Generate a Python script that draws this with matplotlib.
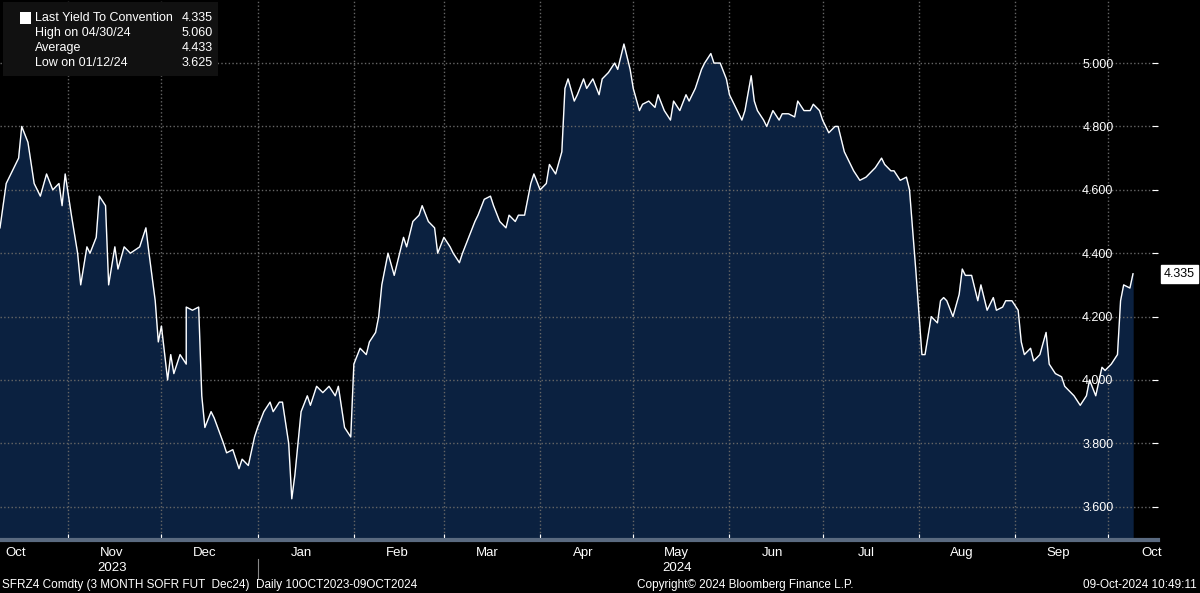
import matplotlib.pyplot as plt
import matplotlib.dates as mdates
import datetime as dt

plt.rcParams['font.family'] = ['Liberation Sans', 'DejaVu Sans']

start = dt.date(2023, 10, 10)
offsets = [0, 3, 7, 8, 10, 12, 14, 16, 18, 20, 21, 22, 24, 26, 27, 29, 30, 32, 33, 35, 36, 38, 39, 41, 43,
           46, 48, 49, 51, 52, 53, 55, 56, 57, 59, 61, 62, 64, 66, 67, 68, 70, 71, 74, 75, 77, 79, 80, 82, 84,
           85, 87, 89, 90, 92, 93, 95, 96, 97, 99, 101, 102, 104, 106, 108, 110, 111, 113, 115, 116, 118, 120,
           121, 123, 125, 126, 128, 130, 131, 133, 134, 136, 138, 139, 141, 143, 144, 146, 148, 149, 151, 152,
           154, 156, 157, 159, 161, 162, 164, 166, 167, 169, 170, 172, 174, 175, 177, 179, 180, 182, 184, 185,
           187, 189, 190, 192, 193, 195, 197, 198, 200, 202, 203, 205, 207, 208, 210, 211, 213, 215, 216, 218,
           220, 221, 223, 225, 226, 228, 230, 231, 233, 234, 236, 238, 239, 241, 243, 244, 246, 248, 249, 251,
           252, 254, 256, 257, 259, 261, 262, 264, 266, 267, 269, 270, 272, 274, 275, 277, 279, 280, 282, 284,
           285, 287, 289, 290, 292, 293, 295, 297, 298, 300, 302, 303, 305, 307, 308, 310, 311, 313, 315, 316,
           317, 319, 321, 322, 324, 326, 327, 329, 330, 332, 334, 335, 336, 338, 339, 341, 343, 344, 346, 348,
           349, 351, 352, 354, 356, 357, 359, 361, 362, 364, 366, 367, 368, 370, 371]
values = [4.48, 4.62, 4.70, 4.80, 4.75, 4.62, 4.58, 4.65, 4.60, 4.62, 4.55, 4.65, 4.52, 4.40, 4.30, 4.42,
          4.40, 4.45, 4.58, 4.55, 4.30, 4.42, 4.35, 4.42, 4.40, 4.42, 4.48, 4.40, 4.25, 4.12, 4.17, 4.00,
          4.08, 4.02, 4.08, 4.05, 4.23, 4.22, 4.23, 3.95, 3.85, 3.90, 3.88, 3.80, 3.77, 3.78, 3.72, 3.75,
          3.73, 3.82, 3.85, 3.90, 3.93, 3.90, 3.93, 3.93, 3.80, 3.625, 3.70, 3.90, 3.95, 3.92, 3.98, 3.96,
          3.98, 3.95, 3.98, 3.85, 3.82, 4.05, 4.10, 4.08, 4.12, 4.15, 4.20, 4.30, 4.40, 4.33, 4.37, 4.45,
          4.42, 4.50, 4.52, 4.55, 4.50, 4.48, 4.40, 4.45, 4.42, 4.40, 4.37, 4.40, 4.45, 4.50, 4.52, 4.57,
          4.58, 4.55, 4.50, 4.48, 4.52, 4.50, 4.52, 4.52, 4.62, 4.65, 4.60, 4.62, 4.68, 4.65, 4.72, 4.92,
          4.95, 4.88, 4.90, 4.95, 4.92, 4.95, 4.90, 4.95, 4.97, 5.00, 4.98, 5.06, 4.98, 4.92, 4.85, 4.87,
          4.88, 4.86, 4.90, 4.85, 4.82, 4.88, 4.85, 4.90, 4.88, 4.92, 4.98, 5.00, 5.03, 5.00, 5.00, 4.95,
          4.90, 4.86, 4.82, 4.85, 4.96, 4.88, 4.85, 4.82, 4.80, 4.85, 4.82, 4.84, 4.84, 4.83, 4.88, 4.85,
          4.85, 4.87, 4.85, 4.82, 4.78, 4.80, 4.80, 4.72, 4.68, 4.66, 4.63, 4.64, 4.65, 4.67, 4.70, 4.68,
          4.66, 4.66, 4.63, 4.64, 4.60, 4.35, 4.08, 4.08, 4.20, 4.18, 4.25, 4.26, 4.25, 4.20, 4.27, 4.35,
          4.33, 4.33, 4.25, 4.30, 4.22, 4.26, 4.22, 4.23, 4.25, 4.25, 4.22, 4.12, 4.08, 4.10, 4.06, 4.08,
          4.15, 4.05, 4.02, 4.01, 3.98, 3.96, 3.95, 3.92, 3.95, 4.00, 3.95, 4.04, 4.03, 4.05, 4.08, 4.25,
          4.30, 4.29, 4.335]
yticks = [3.6, 3.8, 4.0, 4.2, 4.4, 4.6, 4.8, 5.0]
months = ['Oct', 'Nov', 'Dec', 'Jan', 'Feb', 'Mar', 'Apr', 'May', 'Jun', 'Jul', 'Aug', 'Sep', 'Oct']
legend_rows = [('Last Yield To Convention', '4.335'), ('High on 04/30/24', '5.060'),
               ('Average', '4.433'), ('Low on 01/12/24', '3.625')]

# pixel trace was slightly wider than a year, squeeze onto the real date range
dates = [start + dt.timedelta(days=o * 365 / 371) for o in offsets]
dnum = mdates.date2num(dates)

fig = plt.figure(figsize=(12, 5.93), dpi=100, facecolor='black')
ax = fig.add_axes([0, 53 / 593, 1158 / 1200, 540 / 593], facecolor='black')
ax.fill_between(dnum, values, 3.0, color='#0b2140', zorder=1)
ax.plot(dnum, values, color='white', lw=1.0, zorder=2)
ax.set_ylim(3.495, 5.199)
x0 = mdates.date2num(dt.datetime(2023, 10, 10))
ax.set_xlim(x0, x0 + 365 * 1158 / 1133)

ax.yaxis.tick_right()
ax.set_yticks(yticks)
ax.set_yticklabels([f'{v:.3f}' for v in yticks], color='white', fontsize=9)
ax.tick_params(axis='y', direction='in', pad=-32, length=4, color='white')
for lbl in ax.get_yticklabels():
    lbl.set_horizontalalignment('right')
ax.grid(True, axis='y', color='#666666', ls=':', lw=1)

bounds = [dt.date(2023 + (10 + i) // 12, (10 + i) % 12 + 1, 1) for i in range(12)]
ax.set_xticks(mdates.date2num(bounds))
ax.set_xticklabels([])
ax.tick_params(axis='x', direction='in', length=4, color='white')
ax.grid(True, axis='x', color='#666666', ls=':', lw=1)
mids = [dt.date(2023 + (9 + i) // 12, (9 + i) % 12 + 1, 15) for i in range(13)]
xt = ax.get_xaxis_transform()
for m, name in zip(mids, months):
    ax.text(mdates.date2num(m), -0.013, name, transform=xt,
            ha='center', va='top', color='white', fontsize=9.5)
ax.text(mdates.date2num(dt.date(2023, 11, 15)), -0.04, '2023', transform=xt,
        ha='center', va='top', color='white', fontsize=9.5)
ax.text(mdates.date2num(dt.date(2024, 5, 15)), -0.04, '2024', transform=xt,
        ha='center', va='top', color='white', fontsize=9.5)
ax.plot([mdates.date2num(dt.date(2024, 1, 1))] * 2, [-0.035, -0.07], color='#888888', lw=0.8,
        transform=xt, clip_on=False)
for s in ['top', 'left', 'right']:
    ax.spines[s].set_visible(False)
ax.spines['bottom'].set_color('#5a6a80')
ax.spines['bottom'].set_linewidth(3)

ax.text(1.005, values[-1], f'{values[-1]:.3f}', transform=ax.get_yaxis_transform(),
        ha='left', va='center', color='black', fontsize=9,
        bbox=dict(boxstyle='square,pad=0.25', fc='white', ec='white'))

# legend box
fig.patches.append(plt.Rectangle((3 / 1200, 1 - 76 / 593), 215 / 1200, 74 / 593,
                                 transform=fig.transFigure, fc='#111111', ec='none', zorder=5))
for i, (lab, val) in enumerate(legend_rows):
    y = 1 - (18 + i * 15) / 593
    fig.text(35 / 1200, y, lab, color='white', fontsize=9, va='center', zorder=6)
    fig.text(213 / 1200, y, val, color='white', fontsize=9, va='center', ha='right', zorder=6)
fig.patches.append(plt.Rectangle((20 / 1200, 1 - 24 / 593), 11 / 1200, 12 / 593,
                                 transform=fig.transFigure, fc='white', ec='none', zorder=6))

fig.text(2 / 1200, 8 / 593, 'SFRZ4 Comdty (3 MONTH SOFR FUT  Dec24)  Daily 10OCT2023-09OCT2024',
         color='white', fontsize=8.5, va='center')
fig.text(745 / 1200, 8 / 593, 'Copyright\u00a9 2024 Bloomberg Finance L.P.', color='white',
         fontsize=8.5, va='center', ha='center')
fig.text(1197 / 1200, 8 / 593, '09-Oct-2024 10:49:11', color='white', fontsize=8.5,
         va='center', ha='right')

fig.savefig('out.png', dpi=100, facecolor='black')
